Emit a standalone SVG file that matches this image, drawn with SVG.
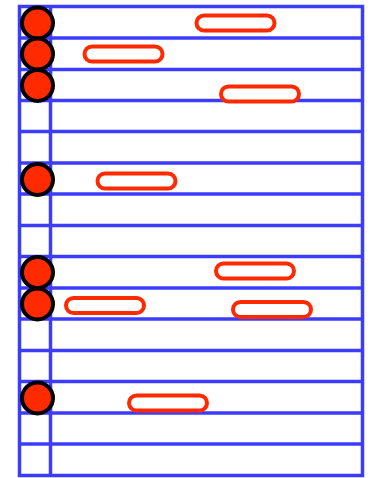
<svg xmlns="http://www.w3.org/2000/svg" width="372" height="478" viewBox="0 0 372 478">
<style>
.g{stroke:#3c3cff;stroke-width:3.5;fill:none}
.c{fill:#ff2a00;stroke:#000;stroke-width:4}
.p{fill:#fff;stroke:#ff2a00;stroke-width:4}
</style>
<rect width="372" height="478" fill="#fff"/>
<g id="grid" class="g">
<rect x="19.5" y="6.5" width="343" height="469"/>
<line x1="50.5" y1="6.5" x2="50.5" y2="475.5"/>
<line x1="19.5" y1="38" x2="362.5" y2="38"/>
<line x1="19.5" y1="69.5" x2="362.5" y2="69.5"/>
<line x1="19.5" y1="100.5" x2="362.5" y2="100.5"/>
<line x1="19.5" y1="131.5" x2="362.5" y2="131.5"/>
<line x1="19.5" y1="163" x2="362.5" y2="163"/>
<line x1="19.5" y1="194" x2="362.5" y2="194"/>
<line x1="19.5" y1="225.5" x2="362.5" y2="225.5"/>
<line x1="19.5" y1="256.5" x2="362.5" y2="256.5"/>
<line x1="19.5" y1="288" x2="362.5" y2="288"/>
<line x1="19.5" y1="319" x2="362.5" y2="319"/>
<line x1="19.5" y1="350.5" x2="362.5" y2="350.5"/>
<line x1="19.5" y1="381.5" x2="362.5" y2="381.5"/>
<line x1="19.5" y1="413" x2="362.5" y2="413"/>
<line x1="19.5" y1="444" x2="362.5" y2="444"/>
</g>
<g id="bars">
<rect id="b0" class="p" x="196.5" y="15.5" width="78" height="15" rx="7.5"/>
<rect id="b1" class="p" x="84.5" y="46.5" width="78" height="15" rx="7.5"/>
<rect id="b2" class="p" x="221" y="86.5" width="78" height="15" rx="7.5"/>
<rect id="b5" class="p" x="97.5" y="173.5" width="78" height="15" rx="7.5"/>
<rect id="b8" class="p" x="216" y="263.5" width="78" height="15" rx="7.5"/>
<rect id="b9a" class="p" x="66" y="298" width="78" height="15" rx="7.5"/>
<rect id="b9b" class="p" x="233" y="302" width="78" height="15" rx="7.5"/>
<rect id="b12" class="p" x="129" y="395.5" width="78" height="15" rx="7.5"/>
</g>
<g id="dots">
<circle id="d0" class="c" cx="37.5" cy="23" r="15.5"/>
<circle id="d1" class="c" cx="37.5" cy="54" r="15.5"/>
<circle id="d2" class="c" cx="37.5" cy="85.5" r="15.5"/>
<circle id="d5" class="c" cx="37.5" cy="179.5" r="15.5"/>
<circle id="d8" class="c" cx="37.5" cy="272.5" r="15.5"/>
<circle id="d9" class="c" cx="37.5" cy="304" r="15.5"/>
<circle id="d12" class="c" cx="37.5" cy="398" r="15.5"/>
</g>
</svg>
